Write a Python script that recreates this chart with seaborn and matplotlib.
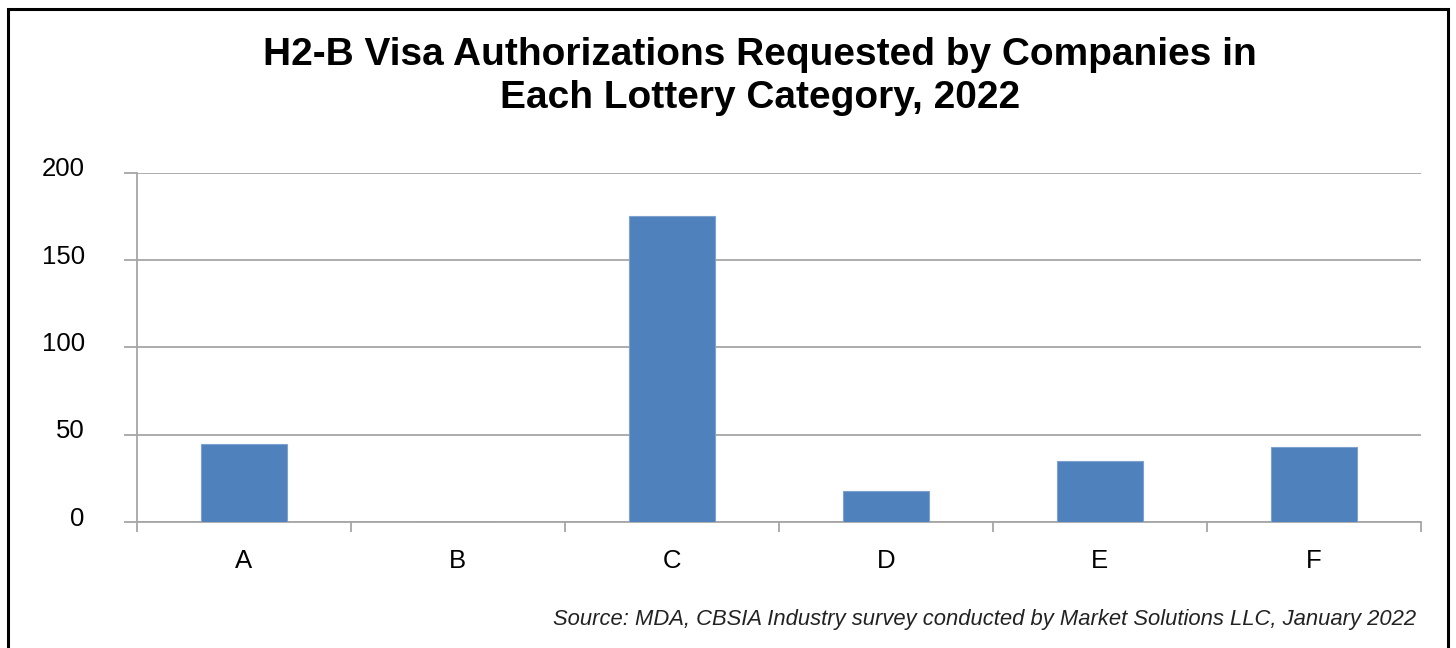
import matplotlib
matplotlib.use("Agg")
import matplotlib.pyplot as plt
import matplotlib.transforms as mtransforms
from matplotlib.patches import Rectangle
import seaborn as sns
import pandas as pd

categories = ["A", "B", "C", "D", "E", "F"]
authorizations = [45, 0, 175, 18, 35, 43]
y_ticks = [0, 50, 100, 150, 200]

title_text = "H2-B Visa Authorizations Requested by Companies in\nEach Lottery Category, 2022"
source_text = "Source: MDA, CBSIA Industry survey conducted by Market Solutions LLC, January 2022"

sns.set_theme(style="white")
plt.rcParams["font.family"] = ["Liberation Sans", "DejaVu Sans"]

grid_gray = "#a6a6a6"
bar_blue = "#4f81bd"

df = pd.DataFrame({"category": categories, "value": authorizations})

fig = plt.figure(figsize=(14.56, 6.48), dpi=100)
fig.patch.set_facecolor("white")
ax = fig.add_axes([0.0939, 0.194, 0.8819, 0.5395])

sns.barplot(data=df, x="category", y="value", color=bar_blue, width=0.4,
            edgecolor="#7ea2cf", linewidth=0.8, saturation=1, ax=ax, zorder=3)

ax.set_xlim(-0.5, len(categories) - 0.5)
ax.set_ylim(0, 200)
ax.set_yticks(y_ticks)
ax.set_xlabel("")
ax.set_ylabel("")

# horizontal gridlines
ax.yaxis.grid(True, color=grid_gray, linewidth=1.3, zorder=0)
ax.xaxis.grid(False)
ax.set_axisbelow(True)

for side in ["top", "right"]:
    ax.spines[side].set_visible(False)
for side in ["left", "bottom"]:
    ax.spines[side].set_color(grid_gray)
    ax.spines[side].set_linewidth(1.3)

# y ticks: gray outward marks, labels set away from the axis
ax.tick_params(axis="y", which="major", length=9.5, width=1.3, color=grid_gray,
               direction="out", left=True, pad=28, labelsize=18.5, labelcolor="black")
shift = mtransforms.ScaledTranslation(0, 6 / 100, fig.dpi_scale_trans)
for lab in ax.get_yticklabels():
    lab.set_transform(lab.get_transform() + shift)

# x ticks: category dividers as minor ticks, labels centred under bars
ax.set_xticks([i - 0.5 for i in range(len(categories) + 1)], minor=True)
ax.tick_params(axis="x", which="minor", length=7.5, width=1.3, color=grid_gray,
               direction="out", bottom=True)
ax.tick_params(axis="x", which="major", length=0, pad=19, labelsize=18.5,
               labelcolor="black")

fig.text(0.522, 0.9435, title_text, ha="center", va="top", fontsize=28,
         fontweight="bold", color="black", linespacing=1.27)

fig.text(0.9725, 0.0355, source_text, ha="right", va="baseline", fontsize=15.85,
         fontstyle="italic", color="#222222")

# outer frame of the chart area
fig.patches.append(Rectangle((8 / 1456, -0.05), 1440 / 1456, 1.05 - 9 / 648,
                             transform=fig.transFigure, fill=False,
                             edgecolor="black", linewidth=2.2, clip_on=False))

fig.savefig("out.png", dpi=100, facecolor="white")
